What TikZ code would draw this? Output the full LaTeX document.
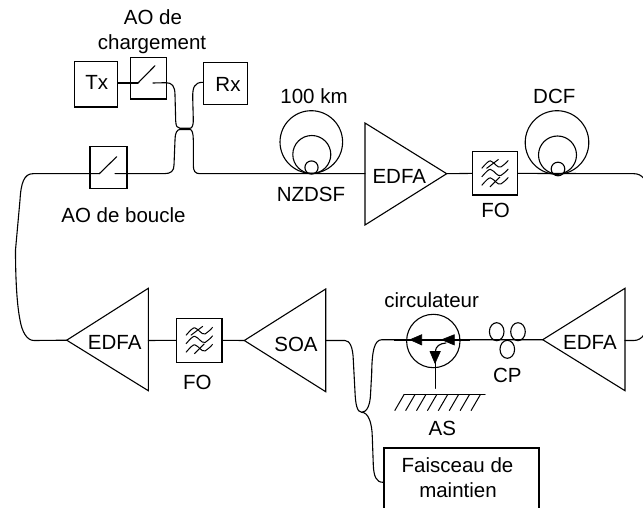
\documentclass[tikz,border=0pt]{standalone}
\usepackage{fontspec}
\setmainfont{Liberation Sans}
\usetikzlibrary{calc,shapes.geometric}
\tikzset{
  fibre/.style={line width=1.1pt,line join=round,line cap=round},
  boxnode/.style={draw,line width=1.1pt,inner sep=0pt,rectangle},
  coil/.style={draw,line width=1.1pt,circle,inner sep=0pt},
  pc/.style={draw,line width=1.1pt,ellipse,inner sep=0pt,minimum width=14.6pt,minimum height=18pt},
  amp/.style={line width=1.1pt,line join=miter},
  lbl/.style={anchor=base,inner sep=0pt,font=\fontsize{20.5}{24}\selectfont},
  headfill/.style={fill=black,draw=black,line width=0.6pt,line join=miter},
  pics/filtersym/.style={code={
    \draw[line width=1pt] (-13.3,-5) .. controls (-9,-10) and (-6,-13) .. (-4.5,-12.5) .. controls (0,-11) and (2,-5) .. (6,-6.5) .. controls (8,-8) and (11,-10) .. (13.3,-13);
    \draw[line width=1pt] (-13.3,3.5) .. controls (-9,-1.5) and (-6,-4.5) .. (-4.5,-4) .. controls (0,-2.5) and (2,3.5) .. (6,2) .. controls (8,0.5) and (11,-1.5) .. (13.3,-4.5);
    \draw[line width=1pt] (-13.3,12) .. controls (-9,7) and (-6,4) .. (-4.5,4.5) .. controls (0,6) and (2,12) .. (6,10.5) .. controls (8,9) and (11,7) .. (13.3,4);
    \draw[line width=1pt] (-8.5,-5) -- (3.5,-14);
    \draw[line width=1pt] (-5,13.5) -- (5,3.5);
  }}
}
\begin{document}
\begin{tikzpicture}[x=1pt,y=-1pt]
\useasboundingbox (0,0) rectangle (643,508);
\clip (0,0) rectangle (643,508);

% boxes
\node[boxnode,minimum width=43pt,minimum height=45.7pt] (tx) at (96.2,84.2) {};
\node[boxnode,minimum width=35.6pt,minimum height=41.7pt] (sw1) at (148.5,78.2) {};
\node[boxnode,minimum width=43.7pt,minimum height=42.4pt] (rx) at (225.2,83.5) {};
\node[boxnode,minimum width=37pt,minimum height=42pt] (sw2) at (108.5,167.7) {};
\node[boxnode,minimum width=44.6pt,minimum height=43.3pt] (fo1) at (495,173.4) {};
\node[boxnode,minimum width=45.3pt,minimum height=44pt] (fo2) at (199.3,340.3) {};
\node[draw,line width=2pt,inner sep=0pt,minimum width=155pt,minimum height=66pt] (pump) at (461.5,480.5) {};
\pic at (fo1.center) {filtersym};
\pic at (fo2.center) {filtersym};

% amplifiers
\coordinate (a1in) at (365,173.7); \coordinate (a1out) at (446.7,173.7);
\draw[amp] (365,123) -- (446.7,173.7) -- (365,225) -- cycle;
\coordinate (a2in) at (625,340.5); \coordinate (a2out) at (542.7,339.7);
\draw[amp] (625,288.3) -- (542.7,339.7) -- (625,390.7) -- cycle;
\coordinate (a3in) at (325.7,340.5); \coordinate (a3out) at (244.3,340.5);
\draw[amp] (325.7,289) -- (244.3,340.5) -- (325.7,391.7) -- cycle;
\coordinate (a4in) at (148.3,340.5); \coordinate (a4out) at (66.7,340.2);
\draw[amp] (148.3,288.3) -- (66.7,340.2) -- (148.3,390.7) -- cycle;

% fibre coils
\node[coil,minimum size=62.6pt] (c1a) at (311.3,142) {};
\node[coil,minimum size=38pt] (c1b) at (311.8,154.5) {};
\node[coil,minimum size=13.2pt] (c1c) at (311.5,167.5) {};
\node[coil,minimum size=63.6pt] (c2a) at (557,142.5) {};
\node[coil,minimum size=38pt] (c2b) at (557.5,155) {};
\node[coil,minimum size=13.6pt] (c2c) at (558,169) {};

% switches
\coordinate (s1l) at (138,83); \coordinate (s1t) at (155,65.7); \coordinate (s1r) at (153,83);
\draw[fibre] (s1l) -- (s1t);
\coordinate (s2l) at (99.3,173.7); \coordinate (s2t) at (116.7,156.7); \coordinate (s2r) at (115,173.7);
\draw[fibre] (s2l) -- (s2t);

% connectors
\coordinate (cul) at (180,128.3); \coordinate (cur) at (190,128.3);
\draw[fibre] (tx.east |- s1l) -- (s1l);
\draw[fibre] (s1r) -- (166,82.7) .. controls (172,82.7) and (175,86) .. (175,95) -- (175.7,121) .. controls (176,126) and (177,128.3) .. (cul) -- (cur) .. controls (192,128.3) and (193.5,125) .. (193.3,120) -- (192.7,97) .. controls (192.7,88) and (194,82.3) .. (rx.west |- 0,82.3);
\draw[fibre] (s2r) -- (164,173.7) .. controls (171,173.7) and (174,171) .. (174,165) -- (175,140) .. controls (175,133) and (177,129.5) .. (180,129.5) -- (190,129.5) .. controls (192,129.5) and (193.3,133) .. (193.3,140) -- (193.3,165) .. controls (193.3,171) and (195,173.7) .. (200,173.7) -- (a1in);
\draw[fibre] (s2l) -- (33,173.7) .. controls (24,173.7) and (21,183) .. (20,200) -- (15.5,250) .. controls (15.5,280) and (17,305) .. (20,320) .. controls (22,332) and (27,340.5) .. (34,340.5) -- (a4out);
\draw[fibre] (a1out) -- (fo1.west);
\draw[fibre] (fo1.east) -- (634,173.7) .. controls (642,173.7) and (648,180) .. (648,195) -- (648,320) .. controls (648,332) and (642,340.5) .. (634,340.5) -- (a2in);
\draw[fibre] (a4in) -- (fo2.west);
\draw[fibre] (fo2.east) -- (a3out);
\coordinate (split) at (361.7,412.3);
\draw[fibre] (a3in) -- (345,340.5) .. controls (350,340.5) and (353,348) .. (353.3,360) -- (355,392) .. controls (355.5,404) and (357,412.3) .. (split) .. controls (367,412.3) and (370,405) .. (370.5,395) -- (371.7,373) .. controls (372,352) and (374,339.7) .. (382,339.7) -- (a2out);
\draw[fibre] (split) .. controls (368,412.3) and (372,422) .. (372.3,437) -- (373.3,465) .. controls (373.8,476) and (376,482.3) .. (pump.west |- 0,482.3);

% circulator
\node[coil,minimum size=53.4pt] (circ) at (433.3,341) {};
\coordinate (thickl) at (394,339.7); \coordinate (thickr) at (470,339.7);
\draw[line width=2.2pt] (thickl) -- (thickr);
\draw[headfill] (410,339.7) -- (421.7,334.7) -- (421.7,345) -- cycle;
\draw[headfill] (441.7,339.7) -- (454.3,334.7) -- (454.3,345) -- cycle;
\draw[headfill] (435,363.3) -- (430,351.5) -- (440.3,351.5) -- cycle;
\draw[fibre] (446,343) .. controls (440,343.5) and (435.5,346) .. (435.3,352);
% mirror
\coordinate (mtop) at (435.7,350); \coordinate (mbot) at (435.7,388.3);
\draw[fibre] (mtop) -- (mbot);
\coordinate (ml) at (404,394.7); \coordinate (mr) at (485,394.7);
\draw[fibre] (ml) -- (mr);
\foreach \i in {0,...,7}
  \draw[line width=1pt] ({404+\i*10.9},394.7) -- ({394.7+\i*10.9},410.7);

% polarisation controller
\node[pc] (cp1) at (496.7,331.7) {};
\node[pc] (cp2) at (518,331.7) {};
\node[pc] (cp3) at (507.3,349.3) {};

% labels
\node[lbl] (t1) at (153,25) {AO de};
\node[lbl] (t2) at (152,50) {chargement};
\node[lbl] (t3) at (96.7,90) {Tx};
\node[lbl] (t4) at (228,91.7) {Rx};
\node[lbl] (t5) at (314,104) {100 km};
\node[lbl] (t6) at (311,201.7) {NZDSF};
\node[lbl] (t7) at (123.5,222.7) {AO de boucle};
\node[lbl] (t8) at (554.3,103.7) {DCF};
\node[lbl] (t9) at (495.7,217.7) {FO};
\node[lbl] (t10) at (399.3,184) {EDFA};
\node[lbl] (t11) at (197.3,389) {FO};
\node[lbl] (t12) at (114.7,349) {EDFA};
\node[lbl] (t13) at (296,351) {SOA};
\node[lbl] (t14) at (431.7,307.3) {circulateur};
\node[lbl] (t15) at (507.3,382.7) {CP};
\node[lbl] (t16) at (442.3,435.3) {AS};
\node[lbl] (t17) at (590,349) {EDFA};
\node[lbl] (t18) at (457.5,472.7) {Faisceau de};
\node[lbl] (t19) at (458,497.3) {maintien};
\end{tikzpicture}
\end{document}
